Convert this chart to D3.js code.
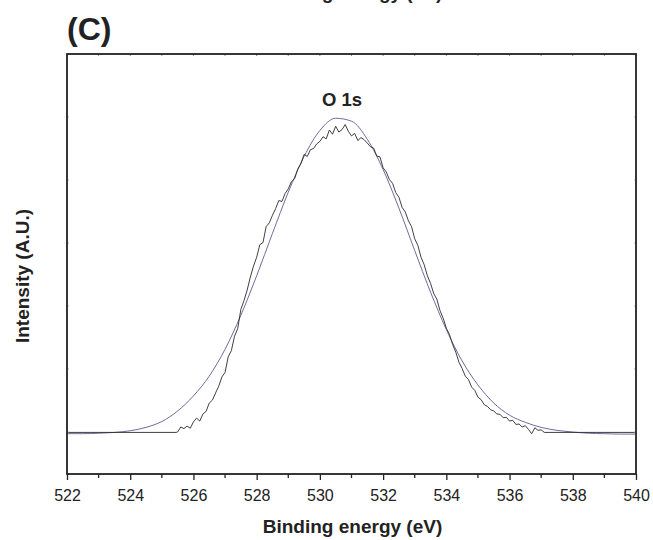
<!DOCTYPE html>
<html>
<head>
<meta charset="utf-8">
<script src="https://cdn.jsdelivr.net/npm/d3@7"></script>
<style>
  html, body { margin: 0; padding: 0; background: #fff; }
  svg { display: block; font-family: "Liberation Sans", Arial, sans-serif; }
</style>
</head>
<body>
<svg id="chart" width="653" height="540"></svg>
<script>
// O 1s spectrum, measured (noisy) points, 0.1 eV sampling from 525.5 eV
let raw_start = 525.5;
let raw_step = 0.1;
let raw_intensity = [
  10.0, 11.2, 10.8, 11.4, 10.9, 12.4, 13.3, 12.6, 14.3, 14.9,
  16.9, 17.6, 19.3, 20.9, 23.1, 24.2, 27.9, 29.4, 32.8, 34.6,
  39.2, 41.3, 43.8, 46.9, 49.5, 51.6, 54.6, 55.1, 58.9, 59.8,
  61.6, 63.2, 65.1, 64.9, 66.8, 67.9, 69.6, 70.3, 72.6, 73.9,
  76.1, 75.6, 77.2, 77.5, 78.6, 79.2, 80.3, 79.8, 81.9, 80.9,
  82.8, 81.4, 82.0, 83.2, 81.6, 80.5, 81.1, 79.4, 80.1, 79.6,
  78.8, 77.9, 77.6, 75.7, 75.5, 72.9, 71.9, 70.1, 69.2, 67.0,
  65.9, 63.5, 62.4, 60.3, 58.9, 56.0, 54.4, 51.6, 49.8, 47.2,
  45.4, 43.0, 41.6, 38.9, 37.1, 34.7, 33.2, 30.8, 29.0, 26.6,
  25.1, 23.3, 22.5, 20.7, 19.9, 18.3, 17.7, 16.5, 16.1, 15.3,
  15.0, 14.3, 14.2, 13.4, 13.5, 12.6, 12.8, 11.8, 11.9, 11.2,
  11.5, 10.6, 9.6, 11.0, 10.4, 10.5, 9.9
];
// flat background outside the measured window
let raw_baseline = 9.9;

// fitted gaussian, read every 0.5 eV
let fit_energy = [
  522, 522.5, 523, 523.5, 524, 524.5, 525, 525.5, 526, 526.5,
  527, 527.5, 528, 528.5, 529, 529.5, 530, 530.5, 531, 531.5,
  532, 532.5, 533, 533.5, 534, 534.5, 535, 535.5, 536, 536.5,
  537, 537.5, 538, 538.5, 539, 539.5, 540
];
let fit_intensity = [
  9.6, 9.6, 9.7, 9.9, 10.3, 11.1, 12.5, 15.0, 18.6, 23.3,
  29.7, 37.8, 47.2, 57.3, 67.1, 75.6, 81.8, 84.7, 84.0, 79.7,
  72.5, 63.3, 53.2, 43.3, 34.4, 26.9, 21.2, 16.9, 14.0, 12.3,
  11.1, 10.4, 10.0, 9.7, 9.6, 9.5, 9.5
];

let x_major = [522, 524, 526, 528, 530, 532, 534, 536, 538, 540];
let x_minor = [523, 525, 527, 529, 531, 533, 535, 537, 539];
let y_ticks = [10, 25, 40, 55, 70, 85];

let svg = d3.select('#chart');
let width = 653, height = 540;
let margin = {top: 54, right: 17, bottom: 66, left: 67};
let plot_w = width - margin.left - margin.right;
let plot_h = height - margin.top - margin.bottom;
let font = '"Liberation Sans", Arial, sans-serif';

let x = d3.scaleLinear().domain([522, 540]).range([0, plot_w]);
let y = d3.scaleLinear().domain([0, 100]).range([plot_h, 0]);

let g = svg.append('g')
  .attr('transform', 'translate(' + margin.left + ',' + margin.top + ')');

// measured series: flat background + noisy window + flat background
let raw_points = [[522, raw_baseline], [raw_start - 0.05, raw_baseline]];
raw_intensity.forEach((v, i) => raw_points.push([raw_start + i * raw_step, v]));
raw_points.push([540, raw_baseline]);

let fit_points = fit_energy.map((e, i) => [e, fit_intensity[i]]);

g.append('path')
  .datum(fit_points)
  .attr('fill', 'none')
  .attr('stroke', '#6f6c9e')
  .attr('stroke-width', 1)
  .attr('d', d3.line().x(d => x(d[0])).y(d => y(d[1])).curve(d3.curveMonotoneX));

g.append('path')
  .datum(raw_points)
  .attr('fill', 'none')
  .attr('stroke', '#2a2a2a')
  .attr('stroke-width', 0.9)
  .attr('stroke-linejoin', 'round')
  .attr('d', d3.line().x(d => x(d[0])).y(d => y(d[1])));

// bottom axis, outward ticks
let x_axis = g.append('g').attr('transform', 'translate(0,' + plot_h + ')');
x_axis.call(d3.axisBottom(x).tickValues(x_major).tickSize(6).tickPadding(10).tickFormat(d3.format('d')))
  .call(a => a.select('.domain').remove());
x_axis.selectAll('.tick line').attr('stroke', '#222').attr('stroke-width', 1.3);
x_axis.selectAll('.tick text')
  .attr('font-size', 16).attr('fill', '#222')
  .attr('font-family', font);
x_axis.selectAll('.minor')
  .data(x_minor).enter().append('line').attr('class', 'minor')
  .attr('x1', d => x(d)).attr('x2', d => x(d))
  .attr('y1', 0).attr('y2', 4)
  .attr('stroke', '#222').attr('stroke-width', 1.3);

// faint inner ticks on the other three sides
g.selectAll('.top_tick')
  .data(x_major.concat(x_minor)).enter().append('line').attr('class', 'top_tick')
  .attr('x1', d => x(d)).attr('x2', d => x(d))
  .attr('y1', 0).attr('y2', 2)
  .attr('stroke', '#888').attr('stroke-width', 1);
g.selectAll('.left_tick')
  .data(y_ticks).enter().append('line').attr('class', 'left_tick')
  .attr('x1', 0).attr('x2', 2)
  .attr('y1', d => y(d)).attr('y2', d => y(d))
  .attr('stroke', '#bbb').attr('stroke-width', 1);
g.selectAll('.right_tick')
  .data(y_ticks).enter().append('line').attr('class', 'right_tick')
  .attr('x1', plot_w - 2).attr('x2', plot_w)
  .attr('y1', d => y(d)).attr('y2', d => y(d))
  .attr('stroke', '#bbb').attr('stroke-width', 1);

// frame
g.append('rect')
  .attr('x', 0).attr('y', 0)
  .attr('width', plot_w).attr('height', plot_h)
  .attr('fill', 'none')
  .attr('stroke', '#222').attr('stroke-width', 1.8);

// texts
svg.append('text')
  .attr('x', margin.left).attr('y', 40)
  .attr('font-size', 32).attr('font-weight', 'bold').attr('fill', '#222')
  .text('(C)');

// cut-off axis title of the panel above
svg.append('text')
  .attr('x', margin.left + plot_w / 2 + 1).attr('y', -1)
  .attr('text-anchor', 'middle')
  .attr('font-size', 19).attr('font-weight', 'bold').attr('fill', '#222')
  .text('Binding energy (eV)');

svg.append('text')
  .attr('x', 342).attr('y', 106)
  .attr('text-anchor', 'middle')
  .attr('font-size', 18.5).attr('font-weight', 'bold').attr('fill', '#222')
  .text('O 1s');

svg.append('text')
  .attr('x', margin.left + plot_w / 2 + 1).attr('y', 533)
  .attr('text-anchor', 'middle')
  .attr('font-size', 19).attr('font-weight', 'bold').attr('fill', '#222')
  .text('Binding energy (eV)');

svg.append('text')
  .attr('transform', 'translate(29,276) rotate(-90)')
  .attr('text-anchor', 'middle')
  .attr('font-size', 19).attr('font-weight', 'bold').attr('fill', '#222')
  .text('Intensity (A.U.)');
</script>
</body>
</html>
